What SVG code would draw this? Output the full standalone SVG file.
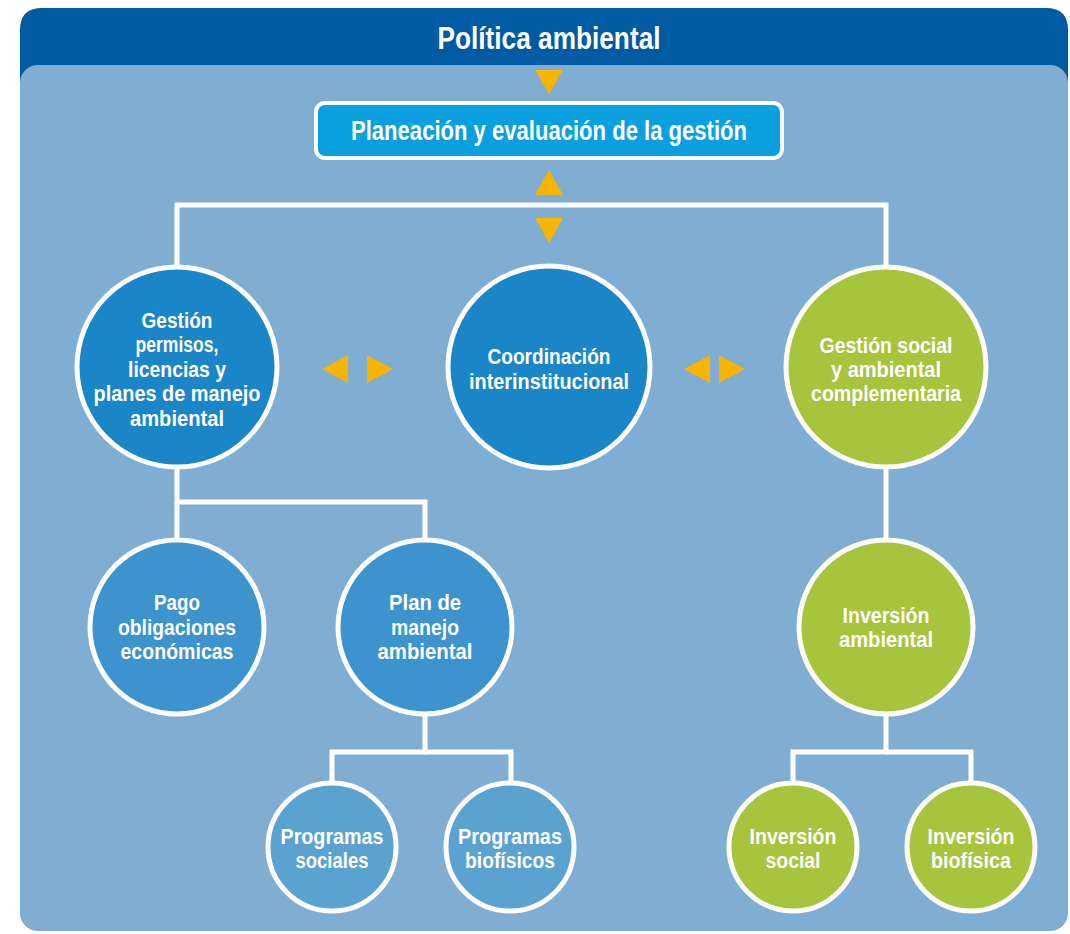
<svg xmlns="http://www.w3.org/2000/svg" width="1070" height="934" viewBox="0 0 1070 934">
<style>
text{font-family:"Liberation Sans",Arial,sans-serif;font-weight:bold;fill:#fff;text-anchor:middle}
.n{font-size:21.5px}
.node{stroke:#fff;stroke-width:5}
.b1{fill:#1A86C8}.b2{fill:#3C93CD}.b3{fill:#5AA2D0}.g{fill:#A7C43D}
.tri{fill:#F8B500}
#connectors path{fill:none;stroke:#fff;stroke-width:5}
</style>
<rect width="1070" height="934" fill="#fff"/>
<g id="frame">
<path d="M20,90 V30 Q20,8 42,8 H1046 Q1068,8 1068,30 V90 Z" fill="#005BA2"/>
<rect x="20" y="65" width="1048" height="866" rx="18" fill="#80AED2"/>
<text x="549" y="49" style="font-size:32px" textLength="223" lengthAdjust="spacingAndGlyphs">Política ambiental</text>
</g>
<g id="connectors">
<path d="M177,268 V205 H886 V268"/>
<path d="M177,468 V502 H425 V540"/>
<path d="M177,502 V540"/>
<path d="M425,714 V752 H332 V782"/>
<path d="M425,752 H511 V782"/>
<path d="M886,468 V540"/>
<path d="M886,714 V752 H793 V782"/>
<path d="M886,752 H971 V782"/>
<polygon class="tri" points="535,70 563,70 549,94"/>
<polygon class="tri" points="535,195 563,195 549,170"/>
<polygon class="tri" points="535,218 563,218 549,243"/>
<polygon class="tri" points="348,355 348,383 322,369"/>
<polygon class="tri" points="367,355 367,383 393,369"/>
<polygon class="tri" points="710,355 710,383 684,369"/>
<polygon class="tri" points="719,355 719,383 745,369"/>
</g>
<g id="planeacion">
<rect x="316" y="103" width="466" height="55" rx="9" fill="#0AA0E0" stroke="#fff" stroke-width="4"/>
<text x="549" y="140" style="font-size:27px" textLength="396" lengthAdjust="spacingAndGlyphs">Planeación y evaluación de la gestión</text>
</g>
<g id="gestion-permisos">
<circle class="node b1" cx="177" cy="367" r="100"/>
<text class="n" x="177" y="328" textLength="71" lengthAdjust="spacingAndGlyphs">Gestión</text>
<text class="n" x="177" y="352" textLength="83" lengthAdjust="spacingAndGlyphs">permisos,</text>
<text class="n" x="177" y="377" textLength="98" lengthAdjust="spacingAndGlyphs">licencias y</text>
<text class="n" x="177" y="401" textLength="167" lengthAdjust="spacingAndGlyphs">planes de manejo</text>
<text class="n" x="177" y="426" textLength="94" lengthAdjust="spacingAndGlyphs">ambiental</text>
</g>
<g id="coordinacion">
<circle class="node b1" cx="549" cy="367" r="101"/>
<text class="n" x="549" y="364" textLength="123" lengthAdjust="spacingAndGlyphs">Coordinación</text>
<text class="n" x="549" y="389" textLength="160" lengthAdjust="spacingAndGlyphs">interinstitucional</text>
</g>
<g id="gestion-social">
<circle class="node g" cx="886" cy="367" r="100"/>
<text class="n" x="886" y="353" textLength="133" lengthAdjust="spacingAndGlyphs">Gestión social</text>
<text class="n" x="886" y="377" textLength="110" lengthAdjust="spacingAndGlyphs">y ambiental</text>
<text class="n" x="886" y="401" textLength="150" lengthAdjust="spacingAndGlyphs">complementaria</text>
</g>
<g id="pago">
<circle class="node b2" cx="177" cy="627" r="87"/>
<text class="n" x="177" y="610" textLength="46" lengthAdjust="spacingAndGlyphs">Pago</text>
<text class="n" x="177" y="635" textLength="118" lengthAdjust="spacingAndGlyphs">obligaciones</text>
<text class="n" x="177" y="659" textLength="113" lengthAdjust="spacingAndGlyphs">económicas</text>
</g>
<g id="plan-manejo">
<circle class="node b2" cx="425" cy="627" r="87"/>
<text class="n" x="425" y="610" textLength="72" lengthAdjust="spacingAndGlyphs">Plan de</text>
<text class="n" x="425" y="635" textLength="68" lengthAdjust="spacingAndGlyphs">manejo</text>
<text class="n" x="425" y="659" textLength="95" lengthAdjust="spacingAndGlyphs">ambiental</text>
</g>
<g id="inversion-ambiental">
<circle class="node g" cx="886" cy="627" r="87"/>
<text class="n" x="886" y="623" textLength="87" lengthAdjust="spacingAndGlyphs">Inversión</text>
<text class="n" x="886" y="647" textLength="94" lengthAdjust="spacingAndGlyphs">ambiental</text>
</g>
<g id="programas-sociales">
<circle class="node b3" cx="332" cy="847" r="64"/>
<text class="n" x="332" y="844" textLength="103" lengthAdjust="spacingAndGlyphs">Programas</text>
<text class="n" x="332" y="868" textLength="73" lengthAdjust="spacingAndGlyphs">sociales</text>
</g>
<g id="programas-biofisicos">
<circle class="node b3" cx="510" cy="847" r="64"/>
<text class="n" x="510" y="844" textLength="104" lengthAdjust="spacingAndGlyphs">Programas</text>
<text class="n" x="510" y="868" textLength="90" lengthAdjust="spacingAndGlyphs">biofísicos</text>
</g>
<g id="inversion-social">
<circle class="node g" cx="793" cy="847" r="64"/>
<text class="n" x="793" y="844" textLength="87" lengthAdjust="spacingAndGlyphs">Inversión</text>
<text class="n" x="793" y="868" textLength="55" lengthAdjust="spacingAndGlyphs">social</text>
</g>
<g id="inversion-biofisica">
<circle class="node g" cx="971" cy="847" r="64"/>
<text class="n" x="971" y="844" textLength="87" lengthAdjust="spacingAndGlyphs">Inversión</text>
<text class="n" x="971" y="868" textLength="80" lengthAdjust="spacingAndGlyphs">biofísica</text>
</g>
</svg>
